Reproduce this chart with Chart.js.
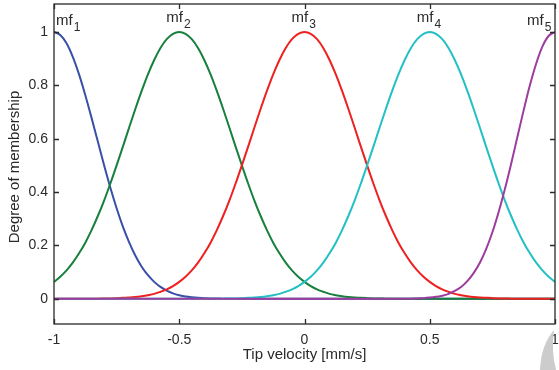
<!DOCTYPE html>
<html>
<head>
<meta charset="utf-8">
<script src="https://cdn.jsdelivr.net/npm/chart.js@4/dist/chart.umd.min.js"></script>
<style>
  html, body { margin: 0; padding: 0; background: #fff; }
  #wrap { position: relative; width: 559px; height: 370px; }
</style>
</head>
<body>
<div id="wrap"><canvas id="chart" width="559" height="370"></canvas></div>
<script>
"use strict";

// Tip velocity samples (x), every 0.025
const velocity = [
  -1, -0.975, -0.95, -0.925, -0.9, -0.875, -0.85, -0.825, -0.8, -0.775,
  -0.75, -0.725, -0.7, -0.675, -0.65, -0.625, -0.6, -0.575, -0.55, -0.525,
  -0.5, -0.475, -0.45, -0.425, -0.4, -0.375, -0.35, -0.325, -0.3, -0.275,
  -0.25, -0.225, -0.2, -0.175, -0.15, -0.125, -0.1, -0.075, -0.05, -0.025,
  0,
  0.025, 0.05, 0.075, 0.1, 0.125, 0.15, 0.175, 0.2, 0.225, 0.25,
  0.275, 0.3, 0.325, 0.35, 0.375, 0.4, 0.425, 0.45, 0.475, 0.5,
  0.525, 0.55, 0.575, 0.6, 0.625, 0.65, 0.675, 0.7, 0.725, 0.75,
  0.775, 0.8, 0.825, 0.85, 0.875, 0.9, 0.925, 0.95, 0.975, 1,
];

// Degree of membership, one value per velocity sample
const mf1 = [
  1, 0.989, 0.958, 0.907, 0.841, 0.763, 0.678, 0.589, 0.5, 0.416,
  0.339, 0.27, 0.211, 0.161, 0.12, 0.088, 0.063, 0.044, 0.03, 0.02,
  0.013, 0.008, 0.005, 0.003, 0.002, 0.001, 0.001, 0, 0, 0,
  0, 0, 0, 0, 0, 0, 0, 0, 0, 0,
  0,
  0, 0, 0, 0, 0, 0, 0, 0, 0, 0,
  0, 0, 0, 0, 0, 0, 0, 0, 0, 0,
  0, 0, 0, 0, 0, 0, 0, 0, 0, 0,
  0, 0, 0, 0, 0, 0, 0, 0, 0, 0,
];
const mf2 = [
  0.063, 0.082, 0.106, 0.135, 0.17, 0.21, 0.257, 0.31, 0.368, 0.432,
  0.5, 0.57, 0.642, 0.712, 0.779, 0.841, 0.895, 0.94, 0.973, 0.993,
  1, 0.993, 0.973, 0.94, 0.895, 0.841, 0.779, 0.712, 0.642, 0.57,
  0.5, 0.432, 0.368, 0.31, 0.257, 0.21, 0.17, 0.135, 0.106, 0.082,
  0.063,
  0.047, 0.035, 0.026, 0.018, 0.013, 0.009, 0.006, 0.004, 0.003, 0.002,
  0.001, 0.001, 0, 0, 0, 0, 0, 0, 0, 0,
  0, 0, 0, 0, 0, 0, 0, 0, 0, 0,
  0, 0, 0, 0, 0, 0, 0, 0, 0, 0,
];
const mf3 = [
  0, 0, 0, 0, 0, 0, 0, 0, 0.001, 0.001,
  0.002, 0.003, 0.004, 0.006, 0.009, 0.013, 0.018, 0.026, 0.035, 0.047,
  0.063, 0.082, 0.106, 0.135, 0.17, 0.21, 0.257, 0.31, 0.368, 0.432,
  0.5, 0.57, 0.642, 0.712, 0.779, 0.841, 0.895, 0.94, 0.973, 0.993,
  1,
  0.993, 0.973, 0.94, 0.895, 0.841, 0.779, 0.712, 0.642, 0.57, 0.5,
  0.432, 0.368, 0.31, 0.257, 0.21, 0.17, 0.135, 0.106, 0.082, 0.063,
  0.047, 0.035, 0.026, 0.018, 0.013, 0.009, 0.006, 0.004, 0.003, 0.002,
  0.001, 0.001, 0, 0, 0, 0, 0, 0, 0, 0,
];
const mf4 = [
  0, 0, 0, 0, 0, 0, 0, 0, 0, 0,
  0, 0, 0, 0, 0, 0, 0, 0, 0, 0,
  0, 0, 0, 0, 0, 0, 0, 0, 0.001, 0.001,
  0.002, 0.003, 0.004, 0.006, 0.009, 0.013, 0.018, 0.026, 0.035, 0.047,
  0.063,
  0.082, 0.106, 0.135, 0.17, 0.21, 0.257, 0.31, 0.368, 0.432, 0.5,
  0.57, 0.642, 0.712, 0.779, 0.841, 0.895, 0.94, 0.973, 0.993, 1,
  0.993, 0.973, 0.94, 0.895, 0.841, 0.779, 0.712, 0.642, 0.57, 0.5,
  0.432, 0.368, 0.31, 0.257, 0.21, 0.17, 0.135, 0.106, 0.082, 0.063,
];
const mf5 = [
  0, 0, 0, 0, 0, 0, 0, 0, 0, 0,
  0, 0, 0, 0, 0, 0, 0, 0, 0, 0,
  0, 0, 0, 0, 0, 0, 0, 0, 0, 0,
  0, 0, 0, 0, 0, 0, 0, 0, 0, 0,
  0,
  0, 0, 0, 0, 0, 0, 0, 0, 0, 0,
  0, 0, 0, 0, 0, 0, 0, 0.001, 0.002, 0.004,
  0.007, 0.011, 0.018, 0.029, 0.044, 0.066, 0.096, 0.135, 0.186, 0.249,
  0.325, 0.411, 0.506, 0.607, 0.707, 0.801, 0.882, 0.946, 0.986, 1,
];

const seriesNames = ["mf1", "mf2", "mf3", "mf4", "mf5"];
const seriesData = [mf1, mf2, mf3, mf4, mf5];
const seriesColors = ["#3a4fa8", "#17803d", "#ee2020", "#22c0c4", "#9c3c9e"];

// label anchors in data units
const labelX = [-1, -0.5, 0, 0.5, 1];
const labelY = [1.025, 1.036, 1.036, 1.036, 1.025];

const xTicks = [-1, -0.5, 0, 0.5, 1];
const yTicks = [0, 0.2, 0.4, 0.6, 0.8, 1];

const xTitle = "Tip velocity [mm/s]";
const yTitle = "Degree of membership";

const FONT = "Liberation Sans, Arial, Helvetica, sans-serif";
const INK = "#2a2a2a";

/**
 * Draws the axes box, inward tick marks, curve labels and axis titles
 */
const framePlugin = {
  id: "frame",
  afterDraw(chart) {
    const { ctx, chartArea: a, scales } = chart;
    const xs = scales.x;
    const ys = scales.y;
    ctx.save();

    // box
    ctx.strokeStyle = INK;
    ctx.lineWidth = 1.3;
    ctx.strokeRect(a.left, a.top, a.right - a.left, a.bottom - a.top);

    // inward ticks
    const tl = 5;
    ctx.beginPath();
    xTicks.forEach((v) => {
      const px = Math.round(xs.getPixelForValue(v)) + 0.5;
      ctx.moveTo(px, a.bottom);
      ctx.lineTo(px, a.bottom - tl);
      ctx.moveTo(px, a.top);
      ctx.lineTo(px, a.top + tl);
    });
    yTicks.forEach((v) => {
      const py = Math.round(ys.getPixelForValue(v)) + 0.5;
      ctx.moveTo(a.left, py);
      ctx.lineTo(a.left + tl, py);
      ctx.moveTo(a.right, py);
      ctx.lineTo(a.right - tl, py);
    });
    ctx.stroke();

    // curve labels: "mf" with a subscript number
    ctx.fillStyle = INK;
    ctx.textBaseline = "alphabetic";
    ctx.textAlign = "left";
    seriesNames.forEach((name, i) => {
      const px = xs.getPixelForValue(labelX[i]);
      const py = ys.getPixelForValue(labelY[i]);
      ctx.font = "15px " + FONT;
      const w = ctx.measureText("mf").width;
      let start;
      if (i === 0) start = px + 2;
      else if (i === seriesNames.length - 1) start = px - 28;
      else start = px - 13;
      ctx.fillText("mf", start, py);
      ctx.font = "12px " + FONT;
      ctx.fillText(name.slice(2), start + w + 1, py + 6);
    });

    // axis titles
    ctx.font = "15px " + FONT;
    ctx.textAlign = "center";
    ctx.textBaseline = "middle";
    ctx.fillText(xTitle, (a.left + a.right) / 2, 355);
    ctx.translate(15, 167);
    ctx.rotate(-Math.PI / 2);
    ctx.fillText(yTitle, 0, 0);
    ctx.restore();

    // grey crescent fragment in the bottom-right corner
    ctx.save();
    ctx.fillStyle = "#cccccc";
    ctx.beginPath();
    ctx.moveTo(554, 330);
    ctx.quadraticCurveTo(541, 345, 540, 370);
    ctx.lineTo(556, 370);
    ctx.quadraticCurveTo(551, 350, 554, 330);
    ctx.closePath();
    ctx.fill();
    ctx.restore();
  },
};

const datasets = seriesNames.map((name, i) => ({
  label: name,
  data: velocity.map((x, j) => ({ x, y: seriesData[i][j] })),
  borderColor: seriesColors[i],
  borderWidth: 2,
  pointRadius: 0,
  fill: false,
  cubicInterpolationMode: "monotone",
  order: seriesNames.length - 1 - i,
}));

new Chart(document.getElementById("chart"), {
  type: "line",
  data: { datasets },
  plugins: [framePlugin],
  options: {
    responsive: false,
    animation: false,
    events: [],
    layout: { padding: { left: 0, right: 4, top: 4, bottom: 0 } },
    plugins: {
      legend: { display: false },
      tooltip: { enabled: false },
      title: { display: false },
    },
    scales: {
      x: {
        type: "linear",
        min: -1,
        max: 1,
        afterBuildTicks: (s) => { s.ticks = xTicks.map((v) => ({ value: v })); },
        afterFit: (s) => {
          s.height = 46;
          s.paddingLeft = 0;
          s.paddingRight = 0;
        },
        grid: { display: false, drawTicks: false },
        border: { display: false },
        ticks: {
          padding: 8,
          color: INK,
          font: { family: FONT, size: 14 },
          maxRotation: 0,
          callback: (v) => String(v),
        },
      },
      y: {
        type: "linear",
        min: -0.095,
        max: 1.105,
        afterBuildTicks: (s) => { s.ticks = yTicks.map((v) => ({ value: v })); },
        afterFit: (s) => {
          s.width = 54;
          s.paddingTop = 0;
          s.paddingBottom = 0;
        },
        grid: { display: false, drawTicks: false },
        border: { display: false },
        ticks: {
          padding: 6,
          color: INK,
          font: { family: FONT, size: 14 },
          callback: (v) => String(v),
        },
      },
    },
  },
});
</script>
</body>
</html>
